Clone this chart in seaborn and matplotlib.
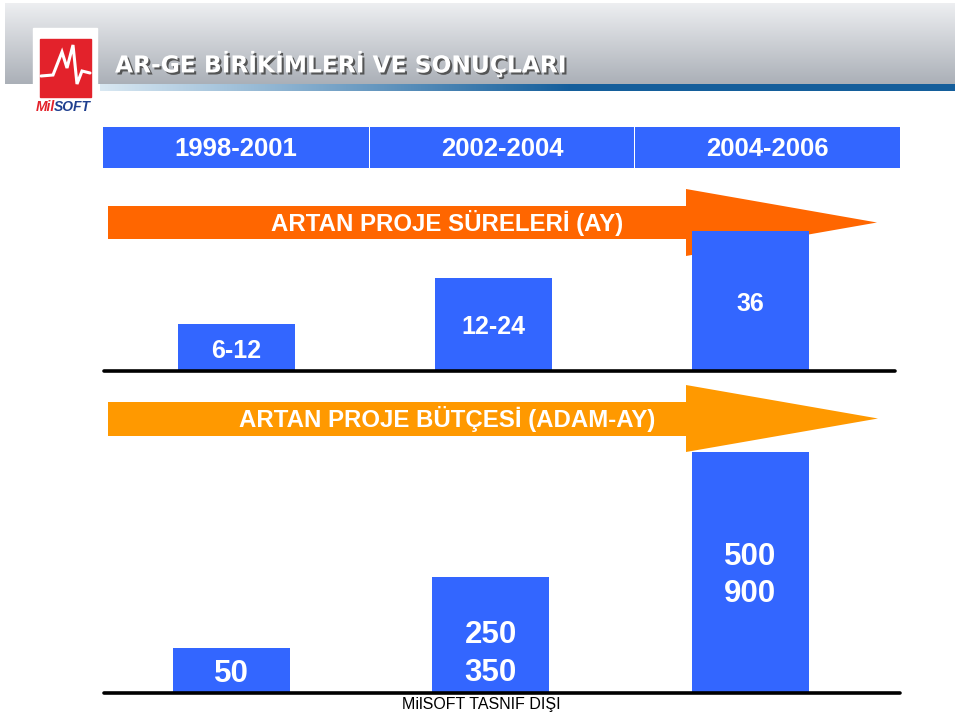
import numpy as np
import pandas as pd
import matplotlib
matplotlib.use("Agg")
import matplotlib.pyplot as plt
import matplotlib.patheffects as pe
import matplotlib.transforms as mtransforms
from matplotlib.patches import Rectangle, Polygon
import seaborn as sns

# ---------------- data ----------------
periods = ["1998-2001", "2002-2004", "2004-2006"]
duration_labels = ["6-12", "12-24", "36"]          # project length (months)
duration_bar = [12, 24, 36]                        # drawn bar heights
budget_labels = ["50", "250\n350", "500\n900"]     # project budget (man-month)
budget_bar = [50, 129, 268]                        # drawn bar heights
title = "AR-GE BİRİKİMLERİ VE SONUÇLARI"
arrow1_text = "ARTAN PROJE SÜRELERİ (AY)"
arrow2_text = "ARTAN PROJE BÜTÇESİ (ADAM-AY)"
footer = "MilSOFT TASNIF DIŞI"

sns.set_theme(style="white")
plt.rcParams["font.family"] = ["Liberation Sans", "DejaVu Sans"]

BLUE = "#3366FF"
W, H = 959, 713
fig = plt.figure(figsize=(W / 100, H / 100), dpi=100)
fig.patch.set_facecolor("white")

# background axes in pixel coordinates
bg = fig.add_axes([0, 0, 1, 1], zorder=0)
bg.set_xlim(0, W)
bg.set_ylim(H, 0)
bg.axis("off")

# header gradient
grad = np.linspace(0, 1, 100).reshape(-1, 1)
c_top = np.array([0.93, 0.935, 0.945])
c_bot = np.array([0.67, 0.69, 0.72])
img = c_top + (c_bot - c_top) * grad[..., None]
img = np.repeat(img, 2, axis=1)
bg.imshow(img, extent=(5, 955, 84, 3), aspect="auto", zorder=1)

# blue underline with fade on left
xs = np.linspace(0, 1, 400)
light = np.array([0.85, 0.91, 0.95])
dark = np.array([0.08, 0.37, 0.61])
t = np.clip(xs / 0.55, 0, 1)
line_img = (light + (dark - light) * t[:, None])[None, :, :]
line_img = np.repeat(line_img, 2, axis=0)
bg.imshow(line_img, extent=(100, 955, 91, 84), aspect="auto", zorder=1)

# logo
bg.add_patch(Rectangle((33, 28), 64, 90, color="white", zorder=2))
bg.add_patch(Rectangle((40, 39), 51, 58, color="#E3222B", zorder=3))
ecg_x = [41, 53, 62, 67, 73, 77, 82, 90]
ecg_y = [76, 75, 52, 68, 45, 84, 71, 73]
bg.plot(ecg_x, ecg_y, color="white", lw=2.2, zorder=4, solid_joinstyle="miter")
mil = bg.text(36, 107, "Mil", color="#E3222B", fontsize=10, fontweight="bold",
              fontstyle="italic", ha="left", va="center", zorder=4)
bg.annotate("SOFT", xy=(1, 0.5), xycoords=mil, xytext=(-0.8, 0),
            textcoords="offset points", color="#1F3F8F", fontsize=10,
            fontweight="bold", fontstyle="italic", ha="left", va="center", zorder=4)

# title
bg.text(115, 64, title, color="white", fontsize=16.8, fontweight="bold",
        family="DejaVu Sans", ha="left", va="center", zorder=5,
        path_effects=[pe.SimplePatchShadow(offset=(1.5, -1.5), shadow_rgbFace="#4a4a4a", alpha=0.9),
                      pe.Normal()])

# period header row
cells = [(103, 369), (370, 634), (635, 900)]
for (x0, x1), lab in zip(cells, periods):
    bg.add_patch(Rectangle((x0, 127), x1 - x0, 41, color=BLUE, lw=0, zorder=2))
    bg.text((x0 + x1) / 2, 149, lab, color="white", fontsize=18.5, fontweight="bold",
            ha="center", va="center", zorder=3)


def arrow(y_top, y_bot, head_top, head_bot, tip_x, color, text):
    yc = (head_top + head_bot) / 2
    pts = [(108, y_top), (686, y_top), (686, head_top), (tip_x, yc),
           (686, head_bot), (686, y_bot), (108, y_bot)]
    bg.add_patch(Polygon(pts, closed=True, color=color, lw=0, zorder=2))
    bg.text(447, (y_top + y_bot) / 2 + 0.5, text, color="white", fontsize=17.3,
            fontweight="bold", ha="center", va="center", zorder=3)


arrow(206, 239, 189, 256, 877, "#FF6600", arrow1_text)
arrow(402, 436, 385, 452, 878, "#FF9900", arrow2_text)

# footer
fig.text(481 / W, 1 - 704 / H, footer, color="black", fontsize=11.5,
         ha="center", va="center")

# ---------------- bar charts ----------------
df_top = pd.DataFrame({"period": periods, "value": duration_bar})
df_bot = pd.DataFrame({"period": periods, "value": budget_bar})


def bar_axes(left, right, base, top):
    ax = fig.add_axes([left / W, 1 - base / H, (right - left) / W, (base - top) / H], zorder=3)
    ax.patch.set_alpha(0)
    return ax


down = mtransforms.ScaledTranslation(0, -3 / 100, fig.dpi_scale_trans)

# top chart (durations)
ax1 = bar_axes(104, 895, 371, 231)
c0, sp = 236.5, 257.0
sns.barplot(data=df_top, x="period", y="value", color=BLUE, saturation=1,
            width=117 / sp, linewidth=0, ax=ax1)
ax1.set_xlim((104 - c0) / sp, (895 - c0) / sp)
ax1.set_ylim(0, max(duration_bar))
ax1.axhline(0, color="black", lw=2.6, clip_on=False, zorder=5)
for i, (lab, h) in enumerate(zip(duration_labels, duration_bar)):
    ax1.text(i, h / 2, lab, color="white", fontsize=18, fontweight="bold",
             ha="center", va="center", zorder=6, transform=ax1.transData + down)
ax1.axis("off")

# bottom chart (budgets)
ax2 = bar_axes(104, 900, 693, 452)
c0, sp = 231.25, 259.5
sns.barplot(data=df_bot, x="period", y="value", color=BLUE, saturation=1,
            width=117 / sp, linewidth=0, ax=ax2)
ax2.set_xlim((104 - c0) / sp, (900 - c0) / sp)
ax2.set_ylim(0, max(budget_bar))
ax2.axhline(0, color="black", lw=2.6, clip_on=False, zorder=5)
label_frac = [0.5, 0.36, 0.5]
for i, (lab, h) in enumerate(zip(budget_labels, budget_bar)):
    ax2.text(i, h * label_frac[i], lab, color="white", fontsize=22.5, fontweight="bold",
             ha="center", va="center", linespacing=1.33, zorder=6,
             transform=ax2.transData + down)
ax2.axis("off")

fig.savefig("out.png", dpi=100, facecolor="white")
